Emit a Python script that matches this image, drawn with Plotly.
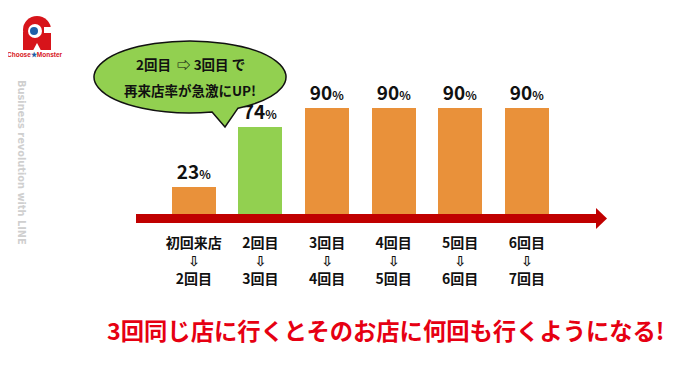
import math
import plotly.graph_objects as go

# ---- data ----
categories = ["初回来店→2回目", "2回目→3回目", "3回目→4回目", "4回目→5回目", "5回目→6回目", "6回目→7回目"]
visit_from = ["初回来店", "2回目", "3回目", "4回目", "5回目", "6回目"]
visit_to = ["2回目", "3回目", "4回目", "5回目", "6回目", "7回目"]
revisit_rate = [23, 74, 90, 90, 90, 90]
bar_colors = ["#E9913A", "#92D050", "#E9913A", "#E9913A", "#E9913A", "#E9913A"]

ARROW = "<span style='font-family:DejaVu Sans'>⇩</span>"
tick_labels = [f"<b>{a}</b><br><b>{ARROW}</b><br><b>{b}</b>" for a, b in zip(visit_from, visit_to)]

FONT = "Noto Sans CJK JP"
OFF = 8  # page body margin
W_FIG, H_FIG = 681 - OFF, 365 - OFF
L, R, T, B = 136 - OFF, 596 - OFF, 60 - OFF, 214 - OFF  # plot area in figure pixels
PW, PH = R - L, B - T


def X(px):
    return (px - OFF - L) / PW


def Y(py):
    return (B - (py - OFF)) / PH


xpos = list(range(len(categories)))

fig = go.Figure()
fig.add_trace(go.Bar(
    x=xpos,
    y=revisit_rate,
    width=0.66,
    marker=dict(color=bar_colors, line=dict(width=0)),
    texttemplate="<b>%{y}</b><span style='font-size:12px'><b>%</b></span>",
    textposition="outside",
    textfont=dict(family=FONT, size=19, color="#111111"),
    constraintext="none",
    cliponaxis=False,
    hovertext=categories,
    showlegend=False,
))

shapes = []
# axis arrow
shapes.append(dict(type="rect", xref="paper", yref="paper",
                   x0=X(136), x1=X(597), y0=Y(214), y1=Y(223),
                   fillcolor="#C00000", line=dict(width=0), layer="above"))
shapes.append(dict(type="path", xref="paper", yref="paper",
                   path=f"M{X(596)},{Y(208)} L{X(607)},{Y(218.5)} L{X(596)},{Y(229)} Z",
                   fillcolor="#C00000", line=dict(width=0), layer="above"))

# speech bubble (ellipse + tail as one path)
cx, cy, rx, ry = 190, 77, 96, 36
tip = (225, 127)
th_start = math.radians(60)
th_end = math.radians(76.7) - 2 * math.pi
nseg = 4
d = (th_end - th_start) / nseg
k = 4 / 3 * math.tan(d / 4)


def E(t):
    return (cx + rx * math.cos(t), cy + ry * math.sin(t))


def dE(t):
    return (-rx * math.sin(t), ry * math.cos(t))


p0 = E(th_start)
path = f"M{X(p0[0])},{Y(p0[1])}"
for i in range(nseg):
    a = th_start + i * d
    b = a + d
    P0, P3 = E(a), E(b)
    da, db = dE(a), dE(b)
    P1 = (P0[0] + k * da[0], P0[1] + k * da[1])
    P2 = (P3[0] - k * db[0], P3[1] - k * db[1])
    path += f" C{X(P1[0])},{Y(P1[1])} {X(P2[0])},{Y(P2[1])} {X(P3[0])},{Y(P3[1])}"
path += f" L{X(tip[0])},{Y(tip[1])} Z"
shapes.append(dict(type="path", xref="paper", yref="paper", path=path,
                   fillcolor="#92D050", line=dict(color="#111111", width=1.5), layer="above"))

# logo (simplified)
shapes.append(dict(type="circle", xref="paper", yref="paper",
                   x0=X(23), x1=X(51), y0=Y(16), y1=Y(44),
                   fillcolor="#D7141A", line=dict(width=0)))
shapes.append(dict(type="rect", xref="paper", yref="paper",
                   x0=X(23), x1=X(51), y0=Y(32), y1=Y(50),
                   fillcolor="#D7141A", line=dict(width=0)))
shapes.append(dict(type="path", xref="paper", yref="paper",
                   path=f"M{X(33)},{Y(50.5)} L{X(37)},{Y(43)} L{X(41)},{Y(50.5)} Z",
                   fillcolor="white", line=dict(width=0)))
shapes.append(dict(type="rect", xref="paper", yref="paper",
                   x0=X(44), x1=X(52), y0=Y(27), y1=Y(33),
                   fillcolor="white", line=dict(width=0)))
shapes.append(dict(type="circle", xref="paper", yref="paper",
                   x0=X(28), x1=X(42), y0=Y(24), y1=Y(38),
                   fillcolor="white", line=dict(width=0)))
shapes.append(dict(type="circle", xref="paper", yref="paper",
                   x0=X(30), x1=X(38), y0=Y(27), y1=Y(35),
                   fillcolor="#1F5FA8", line=dict(width=0)))


def ann(text, px, py, size, color, family=FONT, angle=0):
    return dict(text=text, x=X(px), y=Y(py), xref="paper", yref="paper",
                xanchor="center", yanchor="middle", showarrow=False, textangle=angle,
                font=dict(family=family, size=size, color=color))


annotations = [
    ann("<b>2回目  ⇨ 3回目 で</b>", 190, 64, 13.5, "#111111"),
    ann("<b>再来店率が急激にUP!</b>", 190, 90, 13.5, "#111111"),
    ann("<b>3回同じ店に行くとそのお店に何回も行くようになる!</b>", 386, 330, 23.3, "#E60012"),
    ann("<b>Business revolution with LINE</b>", 22, 162, 9.8, "#CFCFCF", family="DejaVu Sans", angle=90),
    ann("<b>Choose<span style='color:#1F5FA8'>★</span>Monster</b>", 35, 55, 6.5, "#D7141A",
        family="Liberation Sans"),
]

fig.update_layout(
    width=W_FIG, height=H_FIG,
    margin=dict(l=L, r=W_FIG - R, t=T, b=H_FIG - B, pad=0),
    paper_bgcolor="white", plot_bgcolor="white",
    xaxis=dict(range=[-0.868, 6.039], tickvals=xpos, ticktext=tick_labels,
               showgrid=False, zeroline=False, showline=False, ticks="",
               tickfont=dict(family=FONT, size=14, color="#111111"),
               ticklabelstandoff=19, fixedrange=True),
    yaxis=dict(range=[0, 130.5], visible=False, fixedrange=True),
    shapes=shapes,
    annotations=annotations,
    bargap=0,
)

fig.write_html("out.html")
